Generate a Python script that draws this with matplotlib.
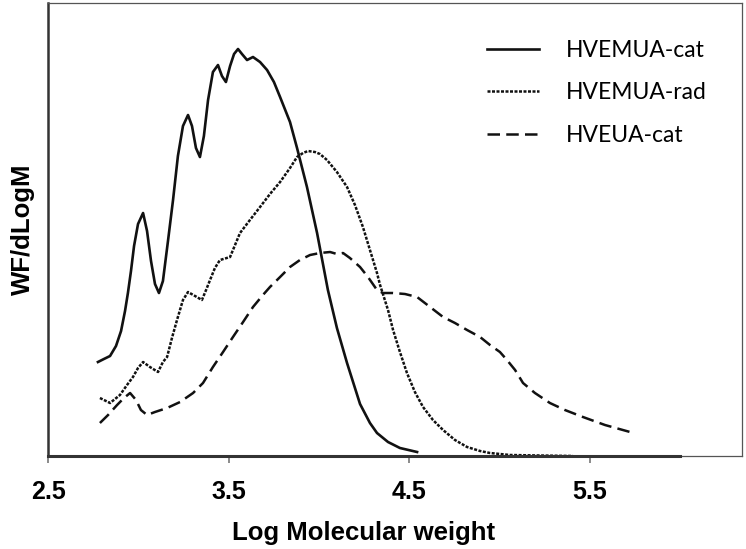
import matplotlib.pyplot as plt

# HVEMUA-cat (solid)
cat_x = [2.774, 2.807, 2.841, 2.874, 2.902, 2.924, 2.940, 2.957, 2.974, 2.996,
         3.024, 3.046, 3.068, 3.090, 3.112, 3.134, 3.162, 3.190, 3.217, 3.245,
         3.273, 3.295, 3.317, 3.339, 3.361, 3.384, 3.411, 3.439, 3.461, 3.483,
         3.506, 3.528, 3.550, 3.572, 3.600, 3.633, 3.672, 3.711, 3.749, 3.783,
         3.838, 3.877, 3.932, 3.988, 4.048, 4.098, 4.154, 4.226, 4.281, 4.320,
         4.381, 4.447, 4.542]
cat_y = [94, 97, 100, 110, 125, 145, 163, 185, 210, 232,
         243, 225, 195, 172, 163, 175, 215, 256, 300, 330,
         341, 330, 308, 299, 320, 356, 384, 391, 380, 374,
         390, 402, 407, 402, 396, 399, 394, 386, 374, 359,
         334, 308, 269, 223, 166, 128, 93, 52, 33, 23,
         14, 8, 4]

# HVEMUA-rad (dotted)
rad_x = [2.785, 2.841, 2.896, 2.935, 2.968, 2.996, 3.024, 3.062, 3.107, 3.134,
         3.157, 3.184, 3.212, 3.245, 3.273, 3.312, 3.350, 3.373, 3.395, 3.422,
         3.450, 3.506, 3.561, 3.616, 3.672, 3.727, 3.783, 3.838, 3.877, 3.910,
         3.938, 3.976, 4.004, 4.043, 4.098, 4.154, 4.198, 4.242, 4.281, 4.320,
         4.337, 4.381, 4.409, 4.447, 4.486, 4.530, 4.575, 4.630, 4.686, 4.752,
         4.819, 4.891, 4.946, 5.057, 5.223, 5.406]
rad_y = [58, 53, 61, 71, 79, 88, 94, 89, 84, 94,
         99, 118, 136, 156, 164, 160, 156, 166, 176, 188,
         196, 199, 223, 236, 249, 262, 274, 288, 299, 303,
         305, 304, 302, 296, 284, 269, 251, 229, 206, 183,
         171, 146, 126, 104, 83, 64, 49, 36, 26, 16,
         9, 5, 3, 1, 0.5, 0]

# HVEUA-cat (dashed)
eua_x = [2.785, 2.830, 2.880, 2.918, 2.952, 2.985, 3.012, 3.046, 3.090, 3.157,
         3.229, 3.301, 3.356, 3.411, 3.467, 3.522, 3.578, 3.633, 3.688, 3.727,
         3.783, 3.838, 3.893, 3.949, 4.004, 4.060, 4.098, 4.132, 4.170, 4.226,
         4.270, 4.320, 4.353, 4.409, 4.475, 4.542, 4.614, 4.686, 4.752, 4.819,
         4.891, 4.946, 5.001, 5.040, 5.085, 5.129, 5.195, 5.278, 5.361, 5.461,
         5.583, 5.722]
eua_y = [33, 41, 51, 58, 63, 56, 46, 41, 44, 48,
         54, 63, 73, 89, 104, 119, 134, 149, 161, 169,
         179, 189, 196, 201, 203, 204, 202, 203, 198, 189,
         179, 166, 163, 163, 162, 159, 149, 139, 133, 126,
         119, 111, 104, 96, 86, 73, 63, 53, 46, 39,
         31, 24]

xticks = [2.5, 3.5, 4.5, 5.5]
labels = ['HVEMUA-cat', 'HVEMUA-rad', 'HVEUA-cat']

fig = plt.figure(figsize=(7.46, 5.49), dpi=100)
ax = fig.add_axes([0.065, 0.1694, 0.9296, 0.8251])

ink = '#111111'
ax.plot(cat_x, cat_y, color=ink, lw=1.9, label=labels[0])
ax.plot(rad_x, rad_y, color=ink, lw=1.8, linestyle=(0, (1.2, 0.6)), label=labels[1])
ax.plot(eua_x, eua_y, color=ink, lw=1.8, linestyle=(0, (5.0, 2.5)), label=labels[2])

ax.set_xlim(2.5, 6.342)
ax.set_ylim(0, 453)
ax.set_yticks([])
ax.set_xticks(xticks)
ax.set_xticklabels(['2.5', '3.5', '4.5', '5.5'])
ax.tick_params(axis='x', direction='out', length=5, width=1.2, color='#777777',
               pad=12, labelsize=18)
for t in ax.get_xticklabels():
    t.set_fontfamily('Liberation Sans')
    t.set_fontweight('bold')

# frame: thick left and x-axis line, thin grey box
for side in ['top', 'right', 'bottom']:
    ax.spines[side].set_color('#555555')
    ax.spines[side].set_linewidth(0.9)
ax.spines['left'].set_color('#333333')
ax.spines['left'].set_linewidth(1.8)
ax.plot([2.5, 6.0], [0, 0], color='#333333', lw=2.2, clip_on=False, zorder=5)

ax.set_xlabel('Log Molecular weight', fontsize=18.5, fontweight='bold',
              family='Liberation Sans')
ax.xaxis.set_label_coords(0.4545, -0.143)
ax.set_ylabel('WF/dLogM', fontsize=18.5, fontweight='bold', family='Liberation Sans',
              labelpad=10)

fig.legend(loc='upper left', bbox_to_anchor=(0.653, 0.928), frameon=False,
           prop={'family': 'Lato', 'size': 16.5}, handlelength=2.25,
           handletextpad=1.2, labelspacing=0.95, borderpad=0, borderaxespad=0)

fig.savefig('out.png', dpi=100)
